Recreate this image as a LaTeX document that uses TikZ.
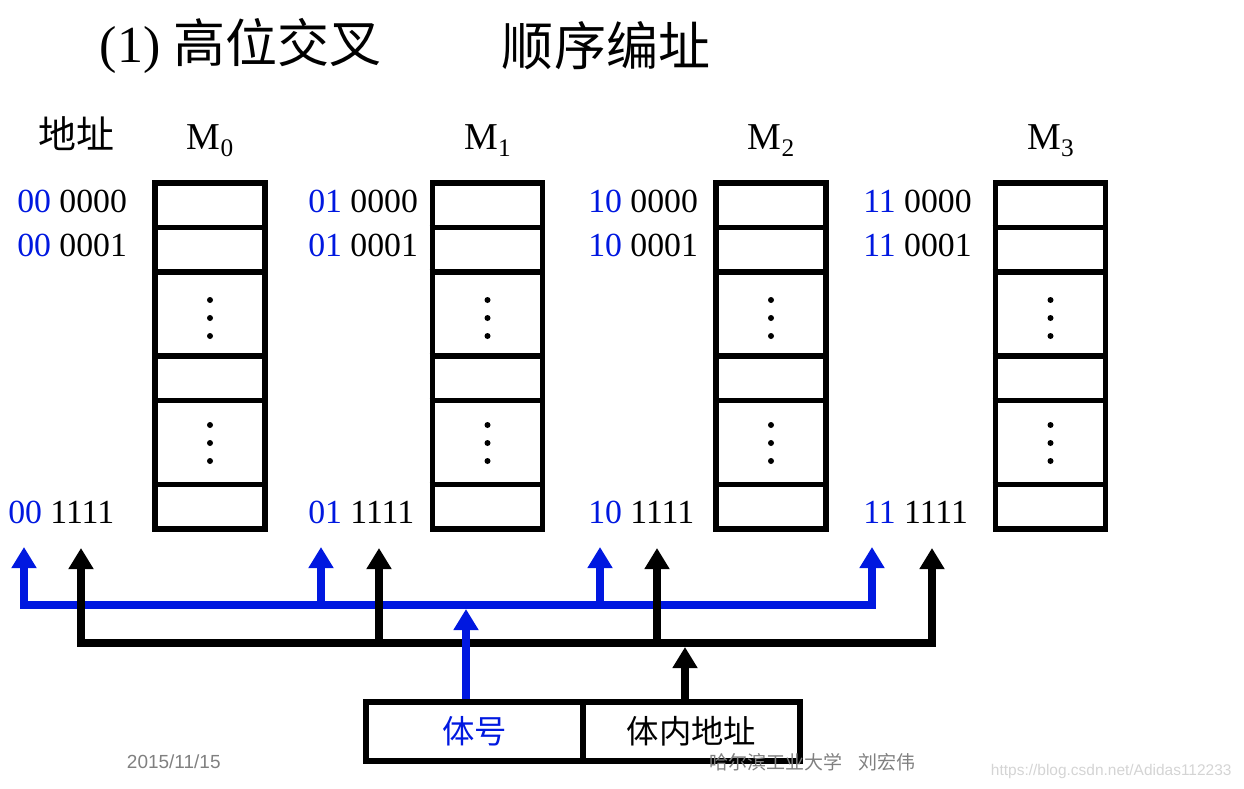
\documentclass[tikz,border=0pt]{standalone}
\usepackage{fontspec}
\setmainfont{Liberation Serif}
\newfontfamily\cjk{Noto Sans CJK SC}
\newfontfamily\sansfoot{Liberation Sans}
\usetikzlibrary{arrows.meta,calc}
\definecolor{bankblue}{RGB}{0,24,224}
\definecolor{footgray}{RGB}{128,128,128}
\definecolor{markgray}{RGB}{212,212,212}
\newcommand{\banksub}[1]{\raisebox{-5.5pt}{\fontsize{18}{20}\selectfont #1}}
\tikzset{
  bank/.style={
    draw,
    line width=4pt,
    inner sep=0pt,
    minimum width=2.75cm,
    minimum height=8.65cm
  },
  field/.style={
    draw,
    line width=4pt,
    inner sep=0pt,
    minimum width=5.425cm,
    minimum height=1.475cm,
    font=\cjk\fontsize{23}{26}\selectfont
  },
  addr/.style={
    anchor=base west,
    inner sep=0pt,
    font=\fontsize{24}{26}\selectfont
  },
  bluebus/.style={
    bankblue,
    line width=6pt
  },
  blackbus/.style={
    black,
    line width=6pt
  }
}

\begin{document}
\begin{tikzpicture}[x=0.025cm,y=-0.025cm,>={Triangle[width=17pt,length=15pt]}]
  \useasboundingbox (0,0) rectangle (1244,789);
  % title
  \node[anchor=west,font=\fontsize{37}{40}\selectfont] (title) at (95,46) {(1) {\cjk 高位交叉}};
  \node[anchor=west,font=\cjk\fontsize{37}{40}\selectfont] (subtitle) at (497,46) {顺序编址};
  \node[font=\cjk\fontsize{27}{30}\selectfont] (addrhead) at (76,134) {地址};
  % memory banks
  \foreach \i/\x/\bits/\ax/\bx in {0/210/00/17/8,1/487.5/01/308/308,2/771/10/588/588,3/1050.5/11/863/863} {
    \node[bank] (M\i) at (\x,356) {};
    \foreach \y in {227.5,272,356,400.5,484.5}
      \draw[line width=4pt] (M\i.west |- 0,\y) -- (M\i.east |- 0,\y);
    \foreach \d in {300,318,336,425,443,461}
      \fill (\x,\d) circle[radius=3];
    \node[anchor=base,inner sep=0pt,font=\fontsize{27}{30}\selectfont] (L\i) at (\x,149) {M\banksub{\i}};
    \node[addr] (a\i first) at (\ax,212) {\textcolor{bankblue}{\bits} 0000};
    \node[addr] (a\i second) at (\ax,256) {\textcolor{bankblue}{\bits} 0001};
    \node[addr] (a\i last) at (\bx,523) {\textcolor{bankblue}{\bits} 1111};
  }
  % bus ends
  \foreach \i/\bx/\kx in {0/24/81,1/321/379,2/600/657,3/872/932} {
    \coordinate (bt\i) at (\bx,547);
    \coordinate (bb\i) at (\bx,605);
    \coordinate (kt\i) at (\kx,548);
    \coordinate (kb\i) at (\kx,643);
  }
  \draw[bluebus,<->] (bt0) -- (bb0) -- (bb3) -- (bt3);
  \draw[bluebus,->] (bb1) -- (bt1);
  \draw[bluebus,->] (bb2) -- (bt2);
  \draw[blackbus,<->] (kt0) -- (kb0) -- (kb3) -- (kt3);
  \draw[blackbus,->] (kb1) -- (kt1);
  \draw[blackbus,->] (kb2) -- (kt2);
  % address register
  \node[field,text=bankblue] (bankno) at (474.5,731.5) {体号};
  \node[field] (offset) at (691.5,731.5) {体内地址};
  \coordinate (bnin) at (466,609);
  \coordinate (ofin) at (685,647);
  \draw[bluebus,->] (bankno.north -| bnin) -- (bnin);
  \draw[blackbus,->] (offset.north -| ofin) -- (ofin);
  % footer
  \node[anchor=west,text=footgray,font=\sansfoot\fontsize{13.5}{15}\selectfont] (date) at (122,762) {2015/11/15};
  \node[anchor=west,text=footgray,font=\cjk\fontsize{13.5}{15}\selectfont] (author) at (705,762) {哈尔滨工业大学\hspace{0.8em}刘宏伟};
  \node[anchor=west,text=markgray,font=\sansfoot\fontsize{11}{12}\selectfont] (mark) at (986,771) {https://blog.csdn.net/Adidas112233};
\end{tikzpicture}
\end{document}
